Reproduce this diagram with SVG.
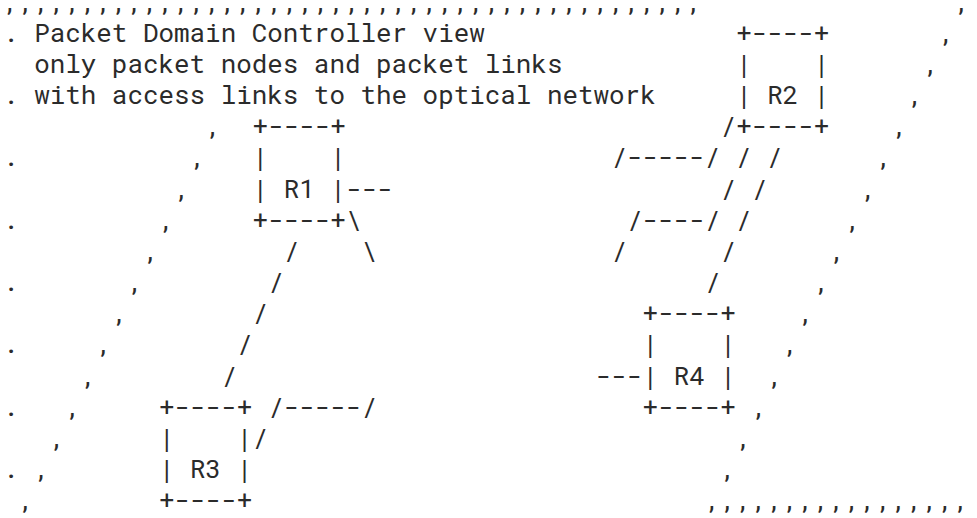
<svg xmlns="http://www.w3.org/2000/svg" width="977" height="518" viewBox="0 0 977 518" xml:space="preserve">
<style>
text{font-family:"Roboto Mono","Noto Sans Mono","DejaVu Sans Mono",monospace;font-size:25.9px;fill:#2b2b2b;white-space:pre}
</style>
<rect width="977" height="518" fill="#fff"/>
<g id="domain-boundary">
<text x="3" y="10.7">,,,,,,,,,,,,,,,,,,,,,,,,,,,,,,,,,,,,,,,,,,,,,</text>
<text x="954.6" y="10.7">,</text>
<text x="3" y="41.85">.</text><text x="939" y="41.85">,</text>
<text x="923.4" y="73">,</text>
<text x="3" y="104.15">.</text><text x="907.8" y="104.15">,</text>
<text x="205.8" y="135.3">,</text><text x="892.2" y="135.3">,</text>
<text x="3" y="166.45">.</text><text x="190.2" y="166.45">,</text><text x="876.6" y="166.45">,</text>
<text x="174.6" y="197.6">,</text><text x="861" y="197.6">,</text>
<text x="3" y="228.75">.</text><text x="159" y="228.75">,</text><text x="845.4" y="228.75">,</text>
<text x="143.4" y="259.9">,</text><text x="829.8" y="259.9">,</text>
<text x="3" y="291.05">.</text><text x="127.8" y="291.05">,</text><text x="814.2" y="291.05">,</text>
<text x="112.2" y="322.2">,</text><text x="798.6" y="322.2">,</text>
<text x="3" y="353.35">.</text><text x="96.6" y="353.35">,</text><text x="783" y="353.35">,</text>
<text x="81" y="384.5">,</text><text x="767.4" y="384.5">,</text>
<text x="3" y="415.65">.</text><text x="65.4" y="415.65">,</text><text x="751.8" y="415.65">,</text>
<text x="49.8" y="446.8">,</text><text x="736.2" y="446.8">,</text>
<text x="3" y="477.95">.</text><text x="34.2" y="477.95">,</text><text x="720.6" y="477.95">,</text>
<text x="18.6" y="509.1">,</text>
<text x="705" y="509.1">,,,,,,,,,,,,,,,,,</text>
</g>
<g id="title">
<text x="34.2" y="41.85">Packet Domain Controller view</text>
<text x="34.2" y="73">only packet nodes and packet links</text>
<text x="34.2" y="104.15">with access links to the optical network</text>
</g>
<g id="R1">
<text x="252.6" y="135.3">+----+</text>
<text x="252.6" y="166.45">|    |</text>
<text x="252.6" y="197.6">| R1 |</text>
<text x="252.6" y="228.75">+----+</text>
</g>
<g id="R2">
<text x="736.2" y="41.85">+----+</text>
<text x="736.2" y="73">|    |</text>
<text x="736.2" y="104.15">| R2 |</text>
<text x="736.2" y="135.3">+----+</text>
</g>
<g id="R3">
<text x="159" y="415.65">+----+</text>
<text x="159" y="446.8">|    |</text>
<text x="159" y="477.95">| R3 |</text>
<text x="159" y="509.1">+----+</text>
</g>
<g id="R4">
<text x="642.6" y="322.2">+----+</text>
<text x="642.6" y="353.35">|    |</text>
<text x="642.6" y="384.5">| R4 |</text>
<text x="642.6" y="415.65">+----+</text>
</g>
<g id="connectors">
<text x="346.2" y="197.6">---</text>
<text x="346.2" y="228.75">\</text>
<text x="361.8" y="259.9">\</text>
<text x="283.8" y="259.9">/</text>
<text x="268.2" y="291.05">/</text>
<text x="252.6" y="322.2">/</text>
<text x="237" y="353.35">/</text>
<text x="221.4" y="384.5">/</text>
<text x="268.2" y="415.65">/-----/</text>
<text x="252.6" y="446.8">/</text>
<text x="720.6" y="135.3">/</text>
<text x="611.4" y="166.45">/-----/ / /</text>
<text x="720.6" y="197.6">/ /</text>
<text x="627" y="228.75">/----/ /</text>
<text x="611.4" y="259.9">/</text>
<text x="720.6" y="259.9">/</text>
<text x="705" y="291.05">/</text>
<text x="595.8" y="384.5">---</text>
</g>
</svg>
